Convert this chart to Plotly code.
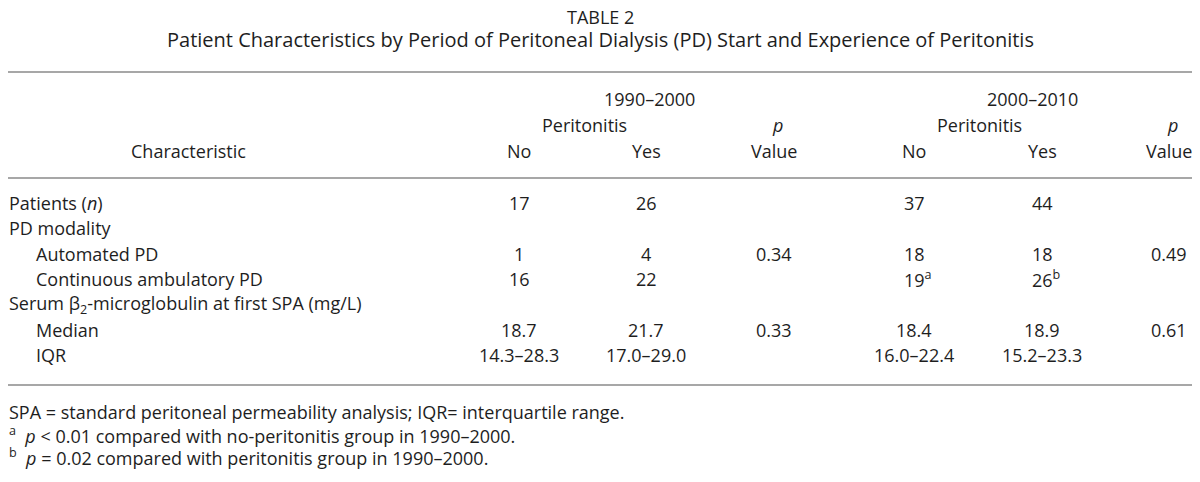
import plotly.graph_objects as go

# ---- data ----
title_lines = ["TABLE 2",
               "Patient Characteristics by Period of Peritoneal Dialysis (PD) Start and Experience of Peritonitis"]
period_labels = ["1990–2000", "2000–2010"]
group_label = "Peritonitis"
col_headers = ["No", "Yes", "<i>p</i><br>Value", "No", "Yes", "<i>p</i><br>Value"]
row_labels = ["Patients (<i>n</i>)", "PD modality", "Automated PD", "Continuous ambulatory PD",
              "Serum β<sub>2</sub>-microglobulin at first SPA (mg/L)", "Median", "IQR"]
row_indent = [0, 0, 1, 1, 0, 1, 1]
p1990_no = ["17", "", "1", "16", "", "18.7", "14.3–28.3"]
p1990_yes = ["26", "", "4", "22", "", "21.7", "17.0–29.0"]
p1990_p = ["", "", "0.34", "", "", "0.33", ""]
p2000_no = ["37", "", "18", "19<sup>a</sup>", "", "18.4", "16.0–22.4"]
p2000_yes = ["44", "", "18", "26<sup>b</sup>", "", "18.9", "15.2–23.3"]
p2000_p = ["", "", "0.49", "", "", "0.61", ""]
footnotes = ["SPA = standard peritoneal permeability analysis; IQR= interquartile range.",
             "<sup>a</sup>\u00a0 <i>p</i> < 0.01 compared with no-peritonitis group in 1990–2000.",
             "<sup>b</sup>\u00a0 <i>p</i> = 0.02 compared with peritonitis group in 1990–2000."]

# ---- layout constants ----
FONT = "Open Sans, Roboto, sans-serif"
TXT = "#1e1e1e"
RULE = "#8a8a8a"
W, H = 1200, 482
PAD = 8  # page body margin
col_x = [519, 646, 774, 914, 1042, 1169]
row_y0, row_dy = 203, 25.3
left_x, indent_dx = 8, 27
BODY = 18

ann = []
def add(text, x, y, size=BODY, anchor="center", yanchor="middle", xshift=0):
    ann.append(dict(text=text, x=x, y=y, xref="x", yref="y", showarrow=False,
                    xanchor=anchor, yanchor=yanchor, xshift=xshift,
                    font=dict(family=FONT, size=size, color=TXT)))

add(title_lines[0], 600, 16.5, size=BODY)
add(title_lines[1], 600, 39, size=20)

# header
add(period_labels[0], 649, 99)
add(period_labels[1], 1032, 99)
add(group_label, (col_x[0] + col_x[1]) / 2 + 2, 125)
add(group_label, (col_x[3] + col_x[4]) / 2 + 1, 125)
add("Characteristic", 188, 151)
for cx, h in zip(col_x, col_headers):
    if "<br>" in h:
        top, bot = h.split("<br>")
        add(top, cx + 3, 125)
        add(bot, cx, 151)
    else:
        add(h, cx, 151)

# body
cols = [p1990_no, p1990_yes, p1990_p, p2000_no, p2000_yes, p2000_p]
for i, lab in enumerate(row_labels):
    y = row_y0 + i * row_dy
    add(lab, left_x + indent_dx * row_indent[i], y, anchor="left", xshift=-1)
    for cx, col in zip(col_x, cols):
        if col[i]:
            add(col[i], cx, y, xshift=4 if "<sup>" in col[i] else 0)

for j, f in enumerate(footnotes):
    add(f, left_x, 412 + j * 22.5, anchor="left", xshift=-1)

shapes = [dict(type="line", xref="x", yref="y", x0=PAD, x1=W - PAD, y0=yy, y1=yy,
               line=dict(color=RULE, width=1.5)) for yy in (72, 178, 385)]

fig = go.Figure()
fig.update_layout(width=W - 2 * PAD, height=H - 2 * PAD, margin=dict(l=0, r=0, t=0, b=0),
                  paper_bgcolor="white", plot_bgcolor="white",
                  xaxis=dict(range=[PAD, W - PAD], visible=False, fixedrange=True),
                  yaxis=dict(range=[H - PAD, PAD], visible=False, fixedrange=True),
                  annotations=ann, shapes=shapes, showlegend=False)
fig.write_html("out.html", config={"displayModeBar": False})
